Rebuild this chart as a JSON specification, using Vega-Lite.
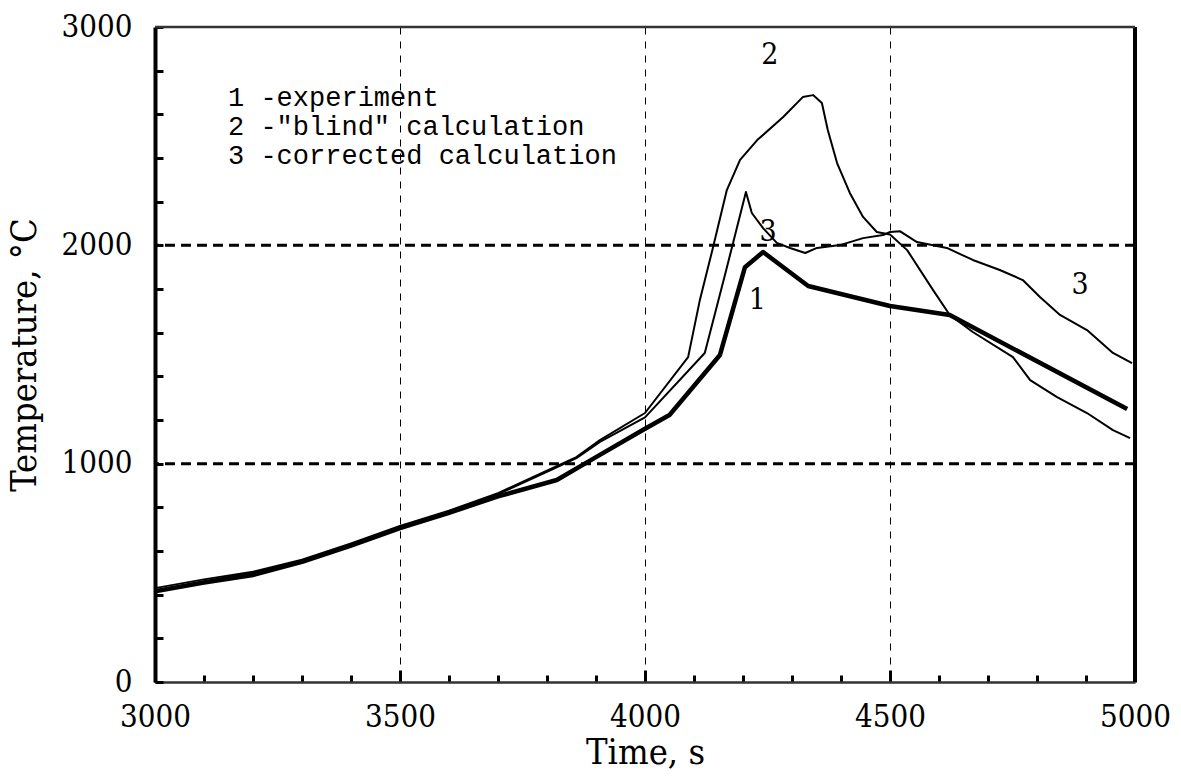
{
  "$schema": "https://vega.github.io/schema/vega-lite/v6.json",
  "width": 980,
  "height": 655,
  "autosize": "none",
  "padding": {"left": 155, "top": 27, "right": 46, "bottom": 94},
  "background": "white",
  "config": {"view": {"stroke": null}},
  "datasets": {
    "curves": [
      {"series": "1", "t": 3000, "T": 415}, {"series": "1", "t": 3100, "T": 455}, {"series": "1", "t": 3200, "T": 490},
      {"series": "1", "t": 3300, "T": 550}, {"series": "1", "t": 3400, "T": 625}, {"series": "1", "t": 3500, "T": 705},
      {"series": "1", "t": 3600, "T": 775}, {"series": "1", "t": 3700, "T": 850}, {"series": "1", "t": 3820, "T": 925},
      {"series": "1", "t": 3900, "T": 1030}, {"series": "1", "t": 4000, "T": 1160}, {"series": "1", "t": 4050, "T": 1223},
      {"series": "1", "t": 4153, "T": 1498}, {"series": "1", "t": 4204, "T": 1900}, {"series": "1", "t": 4241, "T": 1969},
      {"series": "1", "t": 4333, "T": 1814}, {"series": "1", "t": 4500, "T": 1722}, {"series": "1", "t": 4622, "T": 1681},
      {"series": "1", "t": 4984, "T": 1250},
      {"series": "2", "t": 3000, "T": 430}, {"series": "2", "t": 3100, "T": 470}, {"series": "2", "t": 3200, "T": 505},
      {"series": "2", "t": 3300, "T": 560}, {"series": "2", "t": 3400, "T": 635}, {"series": "2", "t": 3500, "T": 715},
      {"series": "2", "t": 3600, "T": 785}, {"series": "2", "t": 3700, "T": 865}, {"series": "2", "t": 3812, "T": 980},
      {"series": "2", "t": 3860, "T": 1030}, {"series": "2", "t": 3908, "T": 1108}, {"series": "2", "t": 4000, "T": 1232},
      {"series": "2", "t": 4088, "T": 1488}, {"series": "2", "t": 4112, "T": 1750}, {"series": "2", "t": 4139, "T": 1992},
      {"series": "2", "t": 4167, "T": 2253}, {"series": "2", "t": 4194, "T": 2391}, {"series": "2", "t": 4229, "T": 2482},
      {"series": "2", "t": 4282, "T": 2588}, {"series": "2", "t": 4322, "T": 2679}, {"series": "2", "t": 4343, "T": 2688},
      {"series": "2", "t": 4361, "T": 2652}, {"series": "2", "t": 4373, "T": 2528}, {"series": "2", "t": 4392, "T": 2377},
      {"series": "2", "t": 4418, "T": 2240}, {"series": "2", "t": 4445, "T": 2130}, {"series": "2", "t": 4473, "T": 2061},
      {"series": "2", "t": 4500, "T": 2050}, {"series": "2", "t": 4535, "T": 1978}, {"series": "2", "t": 4588, "T": 1795},
      {"series": "2", "t": 4622, "T": 1681}, {"series": "2", "t": 4669, "T": 1603}, {"series": "2", "t": 4751, "T": 1488},
      {"series": "2", "t": 4786, "T": 1383}, {"series": "2", "t": 4841, "T": 1305}, {"series": "2", "t": 4902, "T": 1232},
      {"series": "2", "t": 4955, "T": 1154}, {"series": "2", "t": 4990, "T": 1117},
      {"series": "3", "t": 3000, "T": 420}, {"series": "3", "t": 3100, "T": 462}, {"series": "3", "t": 3200, "T": 500},
      {"series": "3", "t": 3300, "T": 555}, {"series": "3", "t": 3400, "T": 630}, {"series": "3", "t": 3500, "T": 710},
      {"series": "3", "t": 3600, "T": 780}, {"series": "3", "t": 3700, "T": 860}, {"series": "3", "t": 3812, "T": 975},
      {"series": "3", "t": 3860, "T": 1025}, {"series": "3", "t": 3908, "T": 1100}, {"series": "3", "t": 4000, "T": 1212},
      {"series": "3", "t": 4122, "T": 1507}, {"series": "3", "t": 4165, "T": 1880}, {"series": "3", "t": 4206, "T": 2244},
      {"series": "3", "t": 4218, "T": 2148}, {"series": "3", "t": 4241, "T": 2079}, {"series": "3", "t": 4269, "T": 2011},
      {"series": "3", "t": 4296, "T": 1988}, {"series": "3", "t": 4327, "T": 1965}, {"series": "3", "t": 4351, "T": 1988},
      {"series": "3", "t": 4398, "T": 2001}, {"series": "3", "t": 4445, "T": 2033}, {"series": "3", "t": 4486, "T": 2047},
      {"series": "3", "t": 4500, "T": 2061}, {"series": "3", "t": 4520, "T": 2065}, {"series": "3", "t": 4555, "T": 2015},
      {"series": "3", "t": 4616, "T": 1988}, {"series": "3", "t": 4669, "T": 1933}, {"series": "3", "t": 4724, "T": 1887},
      {"series": "3", "t": 4771, "T": 1841}, {"series": "3", "t": 4806, "T": 1763}, {"series": "3", "t": 4847, "T": 1681},
      {"series": "3", "t": 4902, "T": 1612}, {"series": "3", "t": 4955, "T": 1507}, {"series": "3", "t": 4994, "T": 1461}
    ],
    "hlines": [{"T": 1000}, {"T": 2000}],
    "vframe": [{"t": 5000, "T0": 0, "T1": 3000}],
    "hframe": [{"T": 3000, "t0": 3000, "t1": 5000}],
    "legend": [
      {"t": 3149, "T": 2675, "text": "1 -experiment"},
      {"t": 3149, "T": 2542, "text": "2 -\"blind\" calculation"},
      {"t": 3149, "T": 2409, "text": "3 -corrected calculation"}
    ],
    "numbers": [
      {"t": 4255, "T": 2872, "text": "2"},
      {"t": 4251, "T": 2061, "text": "3"},
      {"t": 4229, "T": 1750, "text": "1"},
      {"t": 4888, "T": 1818, "text": "3"}
    ]
  },
  "layer": [
    {
      "data": {"name": "hlines"},
      "mark": {"type": "rule", "color": "black", "strokeWidth": 3, "strokeDash": [10, 6]},
      "encoding": {
        "y": {"field": "T", "type": "quantitative", "scale": {"domain": [0, 3000], "nice": false},
          "axis": {
            "title": "Temperature, °C", "titleFont": "DejaVu Serif Condensed, Liberation Serif", "titleFontSize": 36, "titleFontWeight": "normal",
            "titleColor": "black", "titlePadding": 18,
            "values": [0, 200, 400, 600, 800, 1000, 1200, 1400, 1600, 1800, 2000, 2200, 2400, 2600, 2800, 3000],
            "labelExpr": "datum.value % 1000 === 0 ? datum.label : ''",
            "format": "d", "labelFlush": false,
            "labelFont": "DejaVu Serif Condensed, Liberation Serif", "labelFontSize": 31, "labelColor": "black", "labelPadding": 31,
            "labelBaseline": "middle",
            "tickSize": -8, "tickWidth": 3, "tickColor": "black",
            "domainColor": "black", "domainWidth": 4,
            "grid": false
          }
        }
      }
    },
    {
      "data": {"name": "curves"},
      "mark": {"type": "line", "color": "black", "strokeJoin": "round"},
      "encoding": {
        "x": {"field": "t", "type": "quantitative", "scale": {"domain": [3000, 5000], "nice": false},
          "axis": {
            "title": "Time, s", "titleFont": "DejaVu Serif Condensed, Liberation Serif", "titleFontSize": 36, "titleFontWeight": "normal",
            "titleColor": "black", "titlePadding": 3,
            "values": [3000, 3100, 3200, 3300, 3400, 3500, 3600, 3700, 3800, 3900, 4000, 4100, 4200, 4300, 4400, 4500, 4600, 4700, 4800, 4900, 5000],
            "labelExpr": "datum.value % 500 === 0 ? datum.label : ''",
            "format": "d", "labelFlush": false,
            "labelFont": "DejaVu Serif Condensed, Liberation Serif", "labelFontSize": 31, "labelColor": "black", "labelPadding": 32,
            "tickSize": {"condition": {"test": "datum.value % 500 === 0", "value": -12}, "value": -7},
            "tickWidth": 3, "tickColor": "black",
            "domainColor": "#333", "domainWidth": 2.5,
            "grid": true, "gridColor": "black", "gridWidth": 1, "gridDash": [7, 7],
            "gridOpacity": {"condition": {"test": "datum.value == 3500 || datum.value == 4000 || datum.value == 4500", "value": 1}, "value": 0}
          }
        },
        "y": {"field": "T", "type": "quantitative"},
        "detail": {"field": "series", "type": "nominal"},
        "strokeWidth": {"field": "series", "type": "nominal", "scale": {"type": "ordinal", "domain": ["1", "2", "3"], "range": [4.5, 2, 2]}, "legend": null}
      }
    },
    {
      "data": {"name": "vframe"},
      "mark": {"type": "rule", "color": "black", "strokeWidth": 4},
      "encoding": {
        "x": {"field": "t", "type": "quantitative"},
        "y": {"field": "T0", "type": "quantitative"},
        "y2": {"field": "T1"}
      }
    },
    {
      "data": {"name": "hframe"},
      "mark": {"type": "rule", "color": "#333", "strokeWidth": 2.5},
      "encoding": {
        "y": {"field": "T", "type": "quantitative"},
        "x": {"field": "t0", "type": "quantitative"},
        "x2": {"field": "t1"}
      }
    },
    {
      "data": {"name": "legend"},
      "mark": {"type": "text", "align": "left", "baseline": "middle", "font": "Liberation Mono", "fontSize": 27, "color": "black"},
      "encoding": {
        "x": {"field": "t", "type": "quantitative"},
        "y": {"field": "T", "type": "quantitative"},
        "text": {"field": "text"}
      }
    },
    {
      "data": {"name": "numbers"},
      "mark": {"type": "text", "align": "center", "baseline": "middle", "font": "DejaVu Serif Condensed, Liberation Serif", "fontSize": 30, "color": "black"},
      "encoding": {
        "x": {"field": "t", "type": "quantitative"},
        "y": {"field": "T", "type": "quantitative"},
        "text": {"field": "text"}
      }
    }
  ]
}
